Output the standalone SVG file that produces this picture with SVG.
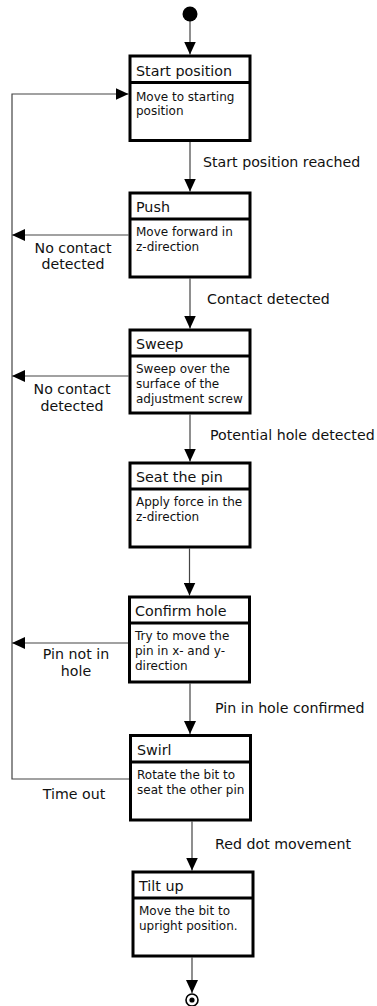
<svg xmlns="http://www.w3.org/2000/svg" width="377" height="1006" viewBox="0 0 377 1006">
<style>
.box{fill:#fff;stroke:#000;stroke-width:3}
.div{stroke:#000;stroke-width:3}
.title{font-family:"DejaVu Sans",sans-serif;font-size:14.3px;fill:#111}
.body{font-family:"DejaVu Sans",sans-serif;font-size:12px;fill:#111}
.lbl{font-family:"DejaVu Sans",sans-serif;font-size:14.2px;fill:#111}
.mid{text-anchor:middle}
.con{fill:none;stroke:#444;stroke-width:1.2}
</style>
<defs>
<marker id="arr" viewBox="0 0 13 12" markerWidth="13" markerHeight="12" refX="13" refY="6" orient="auto" markerUnits="userSpaceOnUse">
<path d="M0,0 L13,6 L0,12 z" fill="#000"/>
</marker>
</defs>
<rect width="377" height="1006" fill="#fff"/>
<g id="connectors">
<line class="con" x1="190" y1="21" x2="190" y2="54.5" marker-end="url(#arr)"/>
<line class="con" x1="190" y1="142" x2="190" y2="191.5" marker-end="url(#arr)"/>
<line class="con" x1="190" y1="278.5" x2="190" y2="328.5" marker-end="url(#arr)"/>
<line class="con" x1="190" y1="414.5" x2="190" y2="461.5" marker-end="url(#arr)"/>
<line class="con" x1="189.5" y1="548.5" x2="189.5" y2="595.5" marker-end="url(#arr)"/>
<line class="con" x1="190" y1="683.5" x2="190" y2="734" marker-end="url(#arr)"/>
<line class="con" x1="192" y1="821.5" x2="192" y2="870.5" marker-end="url(#arr)"/>
<line class="con" x1="192" y1="957.5" x2="192" y2="993" marker-end="url(#arr)"/>
<line class="con" x1="128.5" y1="235" x2="12" y2="235" marker-end="url(#arr)"/>
<line class="con" x1="128.5" y1="376" x2="12" y2="376" marker-end="url(#arr)"/>
<line class="con" x1="128.5" y1="643" x2="12" y2="643" marker-end="url(#arr)"/>
<polyline class="con" points="129,779 12,779 12,94 128.5,94" marker-end="url(#arr)"/>
<text class="lbl" x="203" y="167">Start position reached</text>
<text class="lbl" x="207" y="304">Contact detected</text>
<text class="lbl" x="210" y="440">Potential hole detected</text>
<text class="lbl" x="215" y="713">Pin in hole confirmed</text>
<text class="lbl" x="215" y="849">Red dot movement</text>
<text class="lbl mid" x="73" y="253">No contact</text>
<text class="lbl mid" x="73" y="269">detected</text>
<text class="lbl mid" x="72" y="394">No contact</text>
<text class="lbl mid" x="72" y="411">detected</text>
<text class="lbl mid" x="76" y="659">Pin not in</text>
<text class="lbl mid" x="76" y="676">hole</text>
<text class="lbl mid" x="74" y="799">Time out</text>
</g>
<g id="start">
<circle cx="190" cy="14" r="7.5" fill="#000"/>
</g>
<g id="node-start-position">
<rect class="box" x="130" y="56" width="120" height="84.5"/>
<line class="div" x1="130" y1="82.5" x2="250" y2="82.5"/>
<text class="title" x="136" y="75.5">Start position</text>
<text class="body" x="136" y="100.5">Move to starting</text>
<text class="body" x="136" y="115">position</text>
</g>
<g id="node-push">
<rect class="box" x="130" y="193" width="120" height="84"/>
<line class="div" x1="130" y1="219" x2="250" y2="219"/>
<text class="title" x="136" y="212">Push</text>
<text class="body" x="136" y="236">Move forward in</text>
<text class="body" x="136" y="251">z-direction</text>
</g>
<g id="node-sweep">
<rect class="box" x="130" y="330" width="120" height="83"/>
<line class="div" x1="130" y1="356" x2="250" y2="356"/>
<text class="title" x="136" y="349">Sweep</text>
<text class="body" x="136" y="373">Sweep over the</text>
<text class="body" x="136" y="388">surface of the</text>
<text class="body" x="136" y="403">adjustment screw</text>
</g>
<g id="node-seat-the-pin">
<rect class="box" x="130" y="463" width="120" height="84"/>
<line class="div" x1="130" y1="489" x2="250" y2="489"/>
<text class="title" x="136" y="482">Seat the pin</text>
<text class="body" x="136" y="506">Apply force in the</text>
<text class="body" x="136" y="521">z-direction</text>
</g>
<g id="node-confirm-hole">
<rect class="box" x="129.5" y="597" width="120" height="85"/>
<line class="div" x1="129.5" y1="623" x2="249.5" y2="623"/>
<text class="title" x="135" y="616">Confirm hole</text>
<text class="body" x="135" y="640">Try to move the</text>
<text class="body" x="135" y="655">pin in x- and y-</text>
<text class="body" x="135" y="670">direction</text>
</g>
<g id="node-swirl">
<rect class="box" x="130.5" y="735.5" width="120" height="84.5"/>
<line class="div" x1="130.5" y1="762" x2="250.5" y2="762"/>
<text class="title" x="137" y="755">Swirl</text>
<text class="body" x="137" y="779">Rotate the bit to</text>
<text class="body" x="137" y="794">seat the other pin</text>
</g>
<g id="node-tilt-up">
<rect class="box" x="133" y="872" width="120" height="84"/>
<line class="div" x1="133" y1="898" x2="253" y2="898"/>
<text class="title" x="139" y="891">Tilt up</text>
<text class="body" x="139" y="915">Move the bit to</text>
<text class="body" x="139" y="930">upright position.</text>
</g>
<g id="end">
<circle cx="192" cy="1000" r="6" fill="#fff" stroke="#000" stroke-width="1.6"/>
<circle cx="192" cy="1000" r="2.6" fill="#000"/>
</g>
</svg>
